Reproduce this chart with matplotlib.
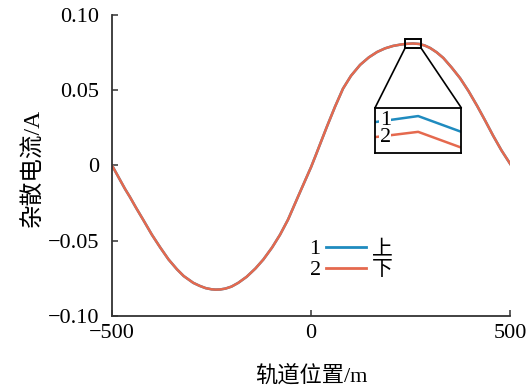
import matplotlib.pyplot as plt
from matplotlib.lines import Line2D
from matplotlib.patches import Rectangle, ConnectionPatch

plt.rcParams['font.family'] = ['Liberation Serif', 'Noto Sans CJK SC']
plt.rcParams['axes.unicode_minus'] = True

# track position (m) and stray current (A)
position = [-500, -490, -480, -467, -455, -440, -422, -400, -379, -358, -337,
            -320, -296, -280, -265, -250, -240, -228, -215, -200, -183, -162,
            -140, -120, -98, -78, -58, -30, -15, 0, 12, 23, 40, 60, 80, 100,
            123, 145, 166, 186, 206, 225, 241, 256, 271, 285, 299, 315, 332,
            353, 374, 395, 417, 437, 457, 478, 500]
current_down = [0.0, -0.0048, -0.0096, -0.0158, -0.021, -0.028, -0.036, -0.046,
                -0.0545, -0.0625, -0.069, -0.0735, -0.078, -0.080, -0.0815,
                -0.0823, -0.0825, -0.0824, -0.0818, -0.0805, -0.078, -0.074,
                -0.0685, -0.0625, -0.0545, -0.046, -0.036, -0.019, -0.010,
                -0.001, 0.007, 0.0145, 0.026, 0.039, 0.051, 0.0595, 0.0668,
                0.0718, 0.0754, 0.0778, 0.0794, 0.0803, 0.0808, 0.081, 0.0807,
                0.0797, 0.078, 0.0752, 0.0714, 0.065, 0.058, 0.0495, 0.0395,
                0.0298, 0.0198, 0.010, 0.001]
current_up = list(current_down)  # the two lines overlap at this scale

# zoomed detail near the peak
zoom_x = [236, 256, 276]
zoom_up = [0.0821, 0.0829, 0.0808]
zoom_down = [0.0801, 0.0808, 0.0787]

blue = '#1f8bbf'
red = '#e5694e'
dark = '#333333'

fig = plt.figure(figsize=(5.26, 3.92), dpi=100)
ax = fig.add_axes([0.213, 0.194, 0.757, 0.768])

ax.plot(position, current_up, color=blue, lw=1.8)
ax.plot(position, current_down, color=red, lw=1.8)

ax.set_xlim(-500, 500)
ax.set_ylim(-0.1, 0.1)
ax.set_xticks([-500, 0, 500])
ax.set_yticks([-0.10, -0.05, 0, 0.05, 0.10])
ax.set_yticklabels(['\u22120.10', '\u22120.05', '0', '0.05', '0.10'])
ax.set_xticklabels(['\u2212500', '0', '500'])

for s in ['top', 'right']:
    ax.spines[s].set_visible(False)
for s in ['left', 'bottom']:
    ax.spines[s].set_color(dark)
    ax.spines[s].set_linewidth(1.3)
ax.tick_params(axis='both', direction='in', length=4, width=1.1, color=dark,
               labelsize=16)
ax.tick_params(axis='y', pad=9)
ax.tick_params(axis='x', pad=6)

ax.set_xlabel('轨道位置/m', fontsize=16)
ax.set_ylabel('杂散电流/A', fontsize=17)
ax.xaxis.set_label_coords(0.5, -0.165)
ax.yaxis.set_label_coords(-0.17, 0.49)

# legend
handles = [Line2D([], [], color=blue, lw=2), Line2D([], [], color=red, lw=2)]
ax.legend(handles, ['上', '下'], loc='center left', bbox_to_anchor=(0.538, 0.186),
          frameon=False, fontsize=15, handlelength=1.9, handletextpad=0.3,
          labelspacing=0.05, borderpad=0, borderaxespad=0)
ax.text(0.51, 0.222, '1', transform=ax.transAxes, fontsize=16,
        ha='center', va='center')
ax.text(0.51, 0.150, '2', transform=ax.transAxes, fontsize=16,
        ha='center', va='center')

# zoom box and inset
x0, x1 = zoom_x[0], zoom_x[-1]
y0, y1 = 0.078, 0.084
ax.add_patch(Rectangle((x0, y0), x1 - x0, y1 - y0, fill=False,
                       edgecolor='black', lw=1.4, zorder=5))

axin = fig.add_axes([0.713, 0.610, 0.164, 0.115])
axin.plot(zoom_x, zoom_up, color=blue, lw=1.8)
axin.plot(zoom_x, zoom_down, color=red, lw=1.8)
axin.set_xlim(x0, x1)
axin.set_ylim(y0, y1)
axin.set_xticks([])
axin.set_yticks([])
for s in axin.spines.values():
    s.set_linewidth(1.3)
    s.set_color('black')
axin.text(0.12, 0.72, '1', transform=axin.transAxes, fontsize=16, ha='center',
          va='center', bbox=dict(facecolor='white', edgecolor='none', pad=0.3))
axin.text(0.12, 0.34, '2', transform=axin.transAxes, fontsize=16, ha='center',
          va='center', bbox=dict(facecolor='white', edgecolor='none', pad=0.3))

for xa, xb in [(x0, 0), (x1, 1)]:
    con = ConnectionPatch(xyA=(xa, y0), coordsA=ax.transData,
                          xyB=(xb, 1), coordsB=axin.transAxes,
                          color='black', lw=1.2)
    fig.add_artist(con)

plt.savefig('out.png', dpi=100)
